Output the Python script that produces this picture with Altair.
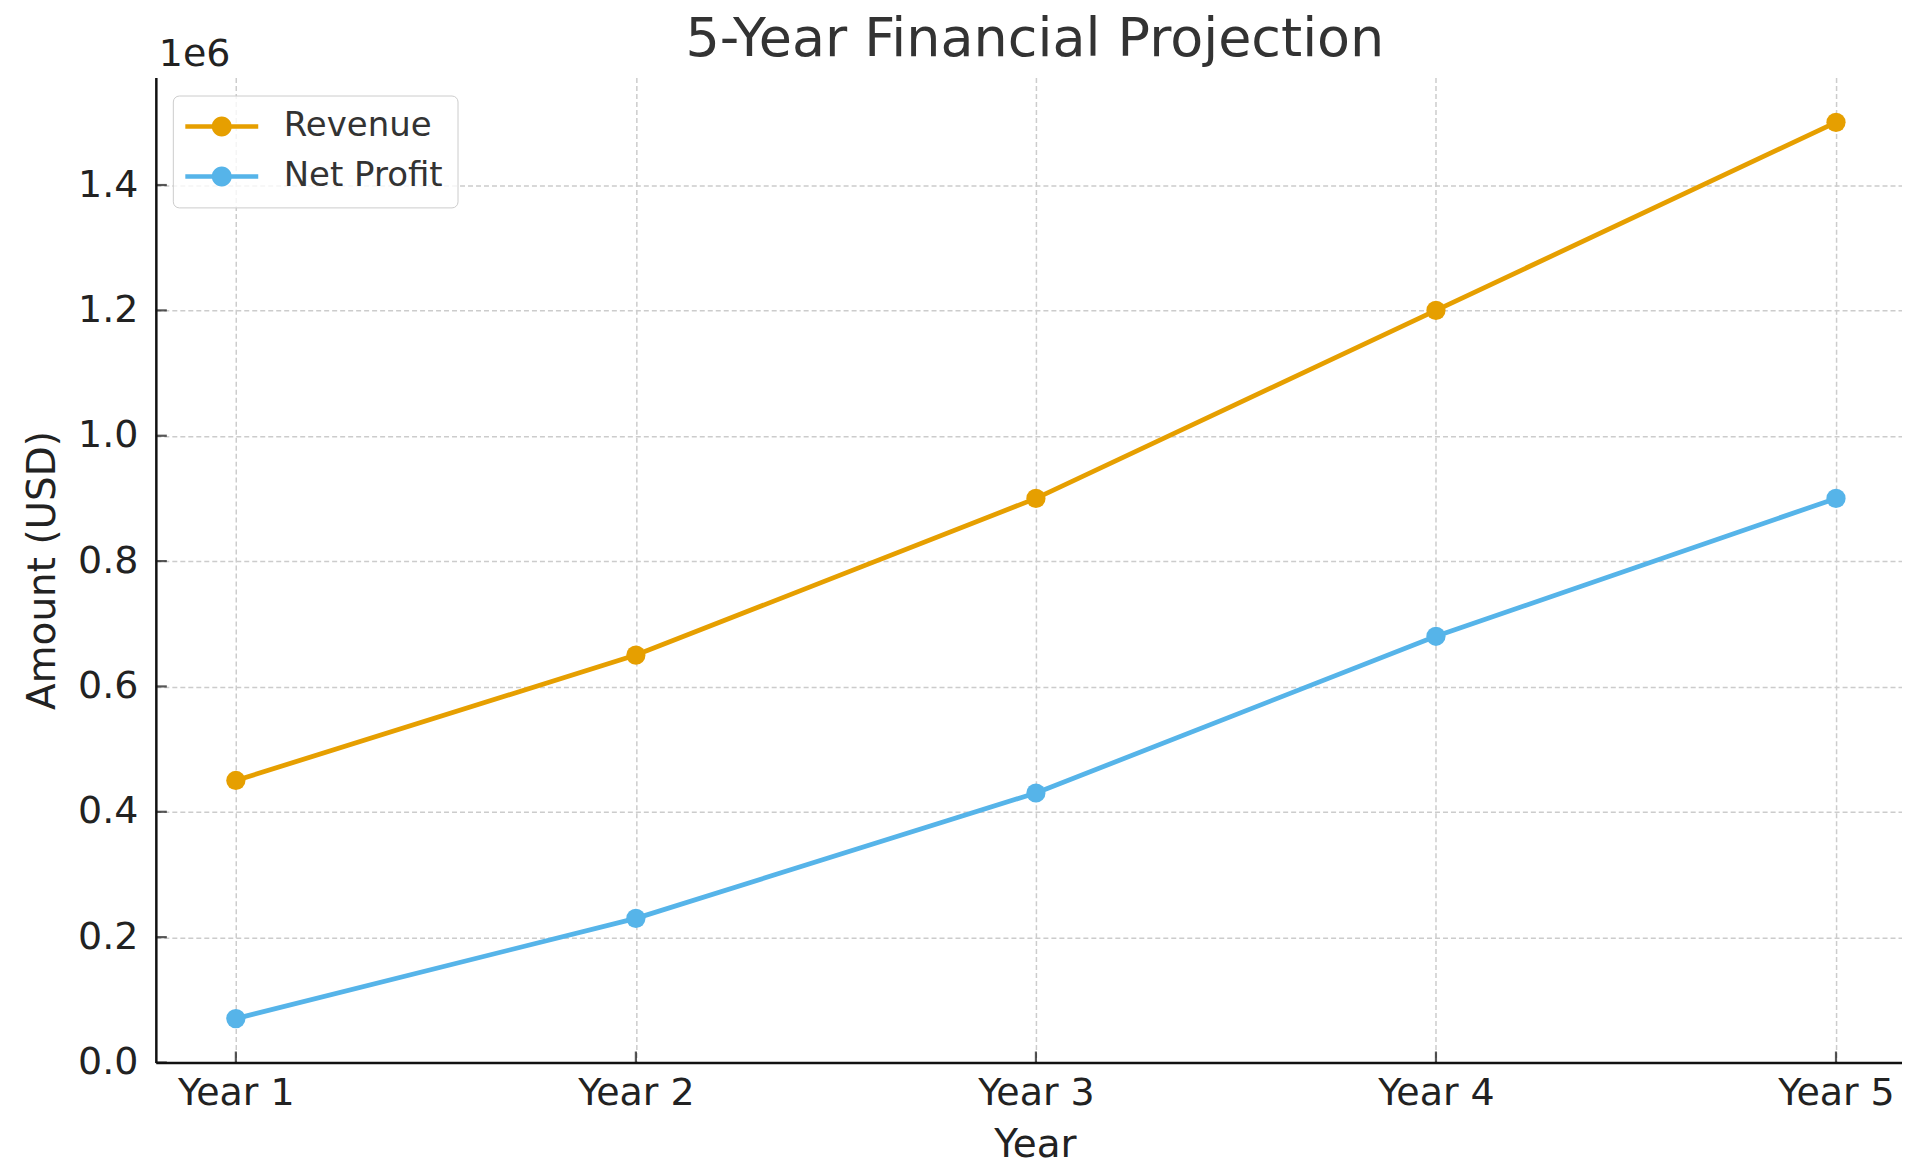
import altair as alt
import pandas as pd

# ---- data ----
years = ["Year 1", "Year 2", "Year 3", "Year 4", "Year 5"]
revenue = [450000, 650000, 900000, 1200000, 1500000]
net_profit = [70000, 230000, 430000, 680000, 900000]
series_names = ["Revenue", "Net Profit"]
series_colors = ["#E69F00", "#56B4E9"]
y_tick_values = [0, 200000, 400000, 600000, 800000, 1000000, 1200000, 1400000]
x_tick_values = [0, 1, 2, 3, 4]
chart_title = "5-Year Financial Projection"
y_multiplier = "1e6"

rows = []
for i, y in enumerate(years):
    rows.append({"idx": i, "Year": y, "Series": "Revenue", "Amount": revenue[i]})
for i, y in enumerate(years):
    rows.append({"idx": i, "Year": y, "Series": "Net Profit", "Amount": net_profit[i]})
df = pd.DataFrame(rows)

W, H = 1748, 986
FONT = "DejaVu Sans"
label_expr = "[" + ",".join("'%s'" % y for y in years) + "][datum.value]"

legend_path = "M-3.65,-0.22H3.65V0.22H-3.65Z M1,0A1,1,0,1,1,-1,0A1,1,0,1,1,1,0Z"

color = alt.Color(
    "Series:N",
    sort=series_names,
    scale=alt.Scale(domain=series_names, range=series_colors),
    legend=alt.Legend(
        title=None,
        orient="none",
        legendX=17,
        legendY=18,
        symbolType=legend_path,
        symbolSize=400,
        symbolStrokeWidth=0,
        symbolOffset=18,
        labelOffset=45,
        labelFontSize=34,
        labelFont=FONT,
        labelColor="#333333",
        labelLimit=400,
        padding=14,
        rowPadding=16,
        strokeColor="#cccccc",
        fillColor="rgba(255,255,255,0.8)",
        cornerRadius=6,
    ),
)

x_enc = alt.X(
    "idx:Q",
    scale=alt.Scale(domain=[-0.2, 4.165], nice=False, zero=False),
    axis=alt.Axis(
        values=x_tick_values,
        labelExpr=label_expr,
        title="Year",
        titleX=880,
        titleY=94,
        titleBaseline="alphabetic",
        titleAlign="center",
        ticks=False,
        labelPadding=12,
    ),
)
y_enc = alt.Y(
    "Amount:Q",
    scale=alt.Scale(domain=[0, 1571500], nice=False, zero=True),
    axis=alt.Axis(
        values=y_tick_values,
        labelExpr="format(datum.value / 1e6, '.1f')",
        title="Amount (USD)",
        titleX=-101,
        titleY=H / 2,
        titleAngle=-90,
        titleBaseline="alphabetic",
        titleAlign="center",
        ticks=False,
        labelPadding=18,
    ),
)

lines = alt.Chart(df).mark_line(strokeWidth=4.8).encode(x=x_enc, y=y_enc, color=color, detail="Series:N")
points = alt.Chart(df).mark_point(filled=True, size=370, opacity=1).encode(x=x_enc, y=y_enc, color=color)

ytick_df = pd.DataFrame({"v": y_tick_values})
xtick_df = pd.DataFrame({"v": x_tick_values})
yticks = alt.Chart(ytick_df).mark_tick(orient="horizontal", size=11, thickness=2.2, color="#111111").encode(
    y=alt.Y("v:Q"), x=alt.value(5.5)
)
xticks = alt.Chart(xtick_df).mark_tick(orient="vertical", size=11, thickness=2.2, color="#111111").encode(
    x=alt.X("v:Q"), y=alt.value(H - 5.5)
)

exp_df = pd.DataFrame({"t": [y_multiplier]})
exp_text = alt.Chart(exp_df).mark_text(
    align="left", baseline="alphabetic", fontSize=38, font=FONT, color="#222222"
).encode(text="t:N", x=alt.value(3), y=alt.value(-12))

title_df = pd.DataFrame({"t": [chart_title]})
title_text = alt.Chart(title_df).mark_text(
    align="center", baseline="alphabetic", fontSize=54, font=FONT, color="#333333"
).encode(text="t:N", x=alt.value(W / 2 + 6), y=alt.value(-22))

chart = (
    alt.layer(lines, points, yticks, xticks, exp_text, title_text)
    .properties(
        width=W,
        height=H,
        autosize=alt.AutoSizeParams(type="none"),
        padding={"left": 148, "top": 69, "right": 0, "bottom": 98},
    )
    .configure_view(stroke=None)
    .configure_axis(
        labelFont=FONT,
        labelFontSize=38,
        labelColor="#222222",
        titleFont=FONT,
        titleFontSize=39,
        titleFontWeight="normal",
        titleColor="#222222",
        domainColor="#111111",
        domainWidth=2.5,
        grid=True,
        gridColor="#cccccc",
        gridDash=[5, 3],
        gridWidth=1.5,
    )
)

chart.save("out.html", embed_options={"renderer": "svg", "actions": False})
